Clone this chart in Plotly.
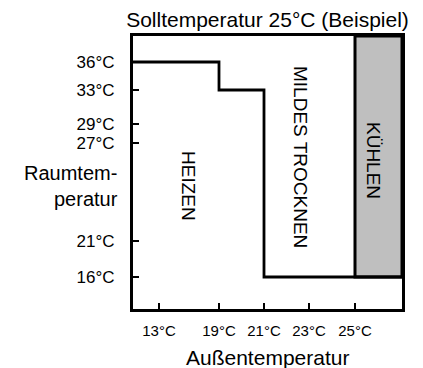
"""Betriebsbereiche Klimagerät — Sollwert 25 °C."""

import numpy as np
import plotly.graph_objects as go

# Daten (Temperaturen in °C)
OUTDOOR_TICKS = [13, 19, 21, 23, 25]
INDOOR_TICKS = [16, 21, 27, 29, 33, 36]
HEAT_LIMIT_OUT = [19, 19, 21, 21]
HEAT_LIMIT_IN = [36, 33, 33, 16]
COOL_FROM_OUT = 25
COOL_FROM_IN = 16
SETPOINT = 25

# Achsenskala (nicht linear in der Vorlage) — Positionen der Ticks
X_TICK_POS = [26, 86, 131, 176, 222]
X_MAX = 269
Y_TICK_POS = [32, 68, 166, 185, 219, 247]
Y_MAX = 273

FONT = "Liberation Sans, Arial, sans-serif"
GREY = "#bfbfbf"


def xp(t):
    return np.interp(t, OUTDOOR_TICKS, X_TICK_POS)


def yp(t):
    return np.interp(t, INDOOR_TICKS, Y_TICK_POS)


fig = go.Figure()

# Kühlbereich
fig.add_shape(type="rect", xref="x", yref="y",
              x0=xp(COOL_FROM_OUT), x1=X_MAX, y0=yp(COOL_FROM_IN), y1=Y_MAX,
              fillcolor=GREY, line=dict(color="black", width=3), layer="below")

# Heizgrenze (Stufenlinie) bis zum Kühlbereich
lx = [0] + list(xp(HEAT_LIMIT_OUT)) + [X_MAX]
ly = [yp(HEAT_LIMIT_IN[0])] + list(yp(HEAT_LIMIT_IN)) + [yp(COOL_FROM_IN)]
fig.add_trace(go.Scatter(x=lx, y=ly, mode="lines", line=dict(color="black", width=2.8),
                         hoverinfo="skip", showlegend=False))

labels = [("HEIZEN", 56, 123), ("MILDES TROCKNEN", 168, 152), ("KÜHLEN", 241, 149)]
for text, x, y in labels:
    fig.add_annotation(x=x, y=y, xref="x", yref="y", text=text, textangle=90,
                       showarrow=False, font=dict(size=19, color="black", family=FONT))

fig.add_annotation(x=-0.048, y=0.45, xref="paper", yref="paper", xanchor="right", yanchor="middle",
                   text="Raumtem-<br>peratur", align="right", showarrow=False,
                   font=dict(size=20, color="black", family=FONT))
fig.add_annotation(x=0.5, y=-0.176, xref="paper", yref="paper", yanchor="middle",
                   text="Außentemperatur", showarrow=False,
                   font=dict(size=21, color="black", family=FONT))

# Seite hat 8px Rand -> Figur entsprechend kleiner
fig.update_layout(
    width=415, height=360,
    margin=dict(l=125, r=21, t=28, b=59),
    paper_bgcolor="white", plot_bgcolor="white",
    font=dict(family=FONT, color="black"),
    title=dict(text=f"Solltemperatur {SETPOINT}°C (Beispiel)", x=0.5, xref="paper",
               y=0.969, yanchor="middle", font=dict(size=21, color="black", family=FONT)),
)
fig.update_xaxes(range=[0, X_MAX], tickvals=X_TICK_POS, ticktext=[f"{t}°C" for t in OUTDOOR_TICKS],
                 ticks="inside", ticklen=6, tickwidth=2, tickcolor="black",
                 showline=True, linewidth=3, linecolor="black", mirror=True,
                 showgrid=False, zeroline=False, ticklabelstandoff=6,
                 tickfont=dict(size=15, family=FONT, color="black"))
fig.update_yaxes(range=[0, Y_MAX], tickvals=Y_TICK_POS, ticktext=[f"{t}°C" for t in INDOOR_TICKS],
                 ticks="inside", ticklen=6, tickwidth=2, tickcolor="black",
                 showline=True, linewidth=3, linecolor="black", mirror=True,
                 showgrid=False, zeroline=False, ticklabelstandoff=12,
                 tickfont=dict(size=17, color="black", family=FONT))

fig.write_html("out.html")
